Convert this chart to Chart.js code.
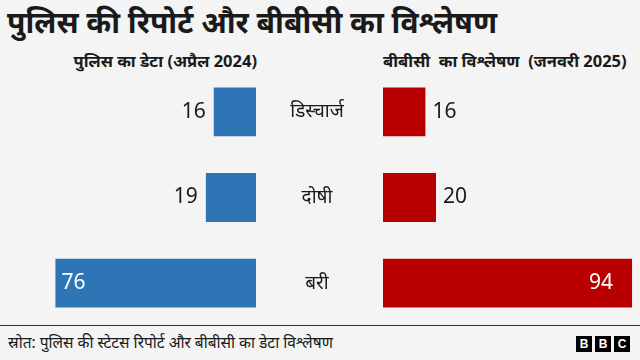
<!DOCTYPE html>
<html>
<head>
<meta charset="utf-8">
<title>पुलिस की रिपोर्ट और बीबीसी का विश्लेषण</title>
<script src="https://cdn.jsdelivr.net/npm/chart.js@4.4.0/dist/chart.umd.min.js"></script>
<style>
    html, body {
        margin: 0;
        padding: 0;
        background: #f4f4f4;
    }
    .wrap {
        position: relative;
        width: 640px;
        height: 360px;
        overflow: hidden;
        font-family: "Noto Sans", sans-serif;
        color: #1a1a1a;
    }
    .title {
        position: absolute;
        left: 7px;
        top: 1px;
        font-size: 30px;
        font-weight: bold;
        white-space: nowrap;
    }
    .sub {
        position: absolute;
        top: 49px;
        font-size: 16.5px;
        font-weight: bold;
        white-space: nowrap;
    }
    #subLeft { right: 383px; }
    #subRight { left: 383px; }
    canvas { position: absolute; }
    #policeChart { left: 0; top: 69px; }
    #bbcChart { left: 256px; top: 69px; }
    .rule {
        position: absolute;
        left: 0;
        top: 325px;
        width: 640px;
        height: 1px;
        background: #333;
    }
    .source {
        position: absolute;
        left: 8px;
        top: 331px;
        font-size: 15.5px;
        white-space: nowrap;
    }
    .bbc {
        position: absolute;
        right: 10px;
        top: 336px;
        display: flex;
        gap: 3px;
    }
    .bbc span {
        width: 16px;
        height: 16px;
        background: #000;
        color: #fff;
        font: bold 12px "Liberation Sans", Arial, sans-serif;
        text-align: center;
        line-height: 16px;
    }
</style>
</head>
<body>
<div class="wrap">
    <div class="title">पुलिस की रिपोर्ट और बीबीसी का विश्लेषण</div>
    <div class="sub" id="subLeft">पुलिस का डेटा (अप्रैल 2024)</div>
    <div class="sub" id="subRight">बीबीसी&nbsp; का विश्लेषण&nbsp; (जनवरी 2025)</div>

    <!-- पुलिस: बाईं ओर -->
    <canvas id="policeChart" width="256" height="257"></canvas>
    <!-- बीबीसी: दाईं ओर, श्रेणी नाम बीच में -->
    <canvas id="bbcChart" width="384" height="257"></canvas>

    <div class="rule"></div>
    <div class="source">स्रोत: पुलिस की स्टेटस रिपोर्ट और बीबीसी का डेटा विश्लेषण</div>
    <div class="bbc"><span>B</span><span>B</span><span>C</span></div>
</div>

<script>
    var categories = ['डिस्चार्ज', 'दोषी', 'बरी'];
    var policeCounts = [16, 19, 76];
    var bbcCounts = [16, 20, 94];
    var axisMax = 97;

    var blue = '#2e75b6';
    var red = '#b80000';

    // value labels: inside the long bar, outside the short ones
    function valueLabels(side) {
        return {
            id: 'valueLabels',
            afterDatasetsDraw: function(chart) {
                var ctx = chart.ctx;
                var meta = chart.getDatasetMeta(0);
                var data = chart.data.datasets[0].data;
                ctx.save();
                ctx.font = '21px "Noto Sans", sans-serif';
                ctx.textBaseline = 'middle';
                meta.data.forEach(function(bar, i) {
                    var w = Math.abs(bar.x - bar.base);
                    var inside = w > 100;
                    var txt = String(data[i]);
                    ctx.fillStyle = inside ? '#fff' : '#1a1a1a';
                    if (side === 'left') {
                        ctx.textAlign = inside ? 'left' : 'right';
                        ctx.fillText(txt, inside ? bar.x + 6 : bar.x - 8, bar.y);
                    } else {
                        ctx.textAlign = inside ? 'right' : 'left';
                        ctx.fillText(txt, inside ? bar.x - 19 : bar.x + 7, bar.y);
                    }
                });
                ctx.restore();
            }
        };
    }

    // category names in the gap between the two panels
    var categoryNames = {
        id: 'categoryNames',
        afterDraw: function(chart) {
            var ctx = chart.ctx;
            var y = chart.scales.y;
            ctx.save();
            ctx.font = '19px "Noto Sans", sans-serif';
            ctx.fillStyle = '#1a1a1a';
            ctx.textAlign = 'center';
            ctx.textBaseline = 'middle';
            categories.forEach(function(name, i) {
                ctx.fillText(name, chart.chartArea.left - 66, y.getPixelForTick(i));
            });
            ctx.restore();
        }
    };

    function barOptions(reverse, padLeft) {
        return {
            indexAxis: 'y',
            responsive: false,
            animation: false,
            layout: { padding: { left: padLeft, right: 0, top: 0, bottom: 0 } },
            plugins: { legend: { display: false }, tooltip: { enabled: false } },
            scales: {
                x: { display: false, min: 0, max: axisMax, reverse: reverse },
                y: { display: false }
            }
        };
    }

    new Chart(document.getElementById('policeChart'), {
        type: 'bar',
        data: {
            labels: categories,
            datasets: [{
                data: policeCounts,
                backgroundColor: blue,
                barPercentage: 0.57,
                categoryPercentage: 1
            }]
        },
        options: barOptions(true, 0),
        plugins: [valueLabels('left')]
    });

    new Chart(document.getElementById('bbcChart'), {
        type: 'bar',
        data: {
            labels: categories,
            datasets: [{
                data: bbcCounts,
                backgroundColor: red,
                barPercentage: 0.57,
                categoryPercentage: 1
            }]
        },
        options: barOptions(false, 127),
        plugins: [valueLabels('right'), categoryNames]
    });
</script>
</body>
</html>
